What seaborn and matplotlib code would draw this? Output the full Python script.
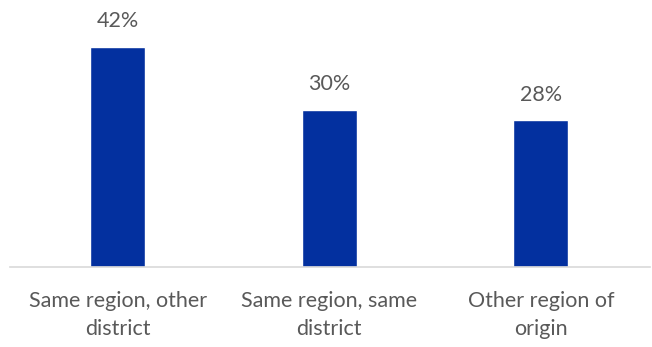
import matplotlib
matplotlib.use("Agg")
import matplotlib.pyplot as plt
import seaborn as sns
import pandas as pd

categories = ["Same region, other\ndistrict", "Same region, same\ndistrict", "Other region of\norigin"]
shares = [42, 30, 28]
value_labels = ["42%", "30%", "28%"]

df = pd.DataFrame({"category": categories, "share": shares})

sns.set_theme(style="white")
plt.rcParams["font.family"] = ["Lato", "DejaVu Sans"]

text_color = "#595959"
bar_color = "#03309F"

fig = plt.figure(figsize=(6.52, 3.47), dpi=100)
ax = fig.add_axes([10 / 652, 80 / 347, 640 / 652, 247 / 347])

sns.barplot(data=df, x="category", y="share", color=bar_color, width=0.26,
            saturation=1, ax=ax)

for patch, lab in zip(ax.patches, value_labels):
    ax.annotate(lab, (patch.get_x() + patch.get_width() / 2, patch.get_height()),
                xytext=(0, 11), textcoords="offset points", ha="center", va="bottom",
                fontsize=15.5, color=text_color)

ax.set_xlim(-0.51, 2.516)
ax.set_ylim(0, 47.1)
ax.set_xlabel("")
ax.set_ylabel("")
ax.set_yticks([])
ax.tick_params(axis="x", length=0, pad=17, labelsize=15.5, labelcolor=text_color)
for t in ax.get_xticklabels():
    t.set_linespacing(1.5)
for s in ["top", "right", "left"]:
    ax.spines[s].set_visible(False)
ax.spines["bottom"].set_color("#d9d9d9")
ax.spines["bottom"].set_linewidth(1.2)

fig.savefig("out.png", dpi=100)
